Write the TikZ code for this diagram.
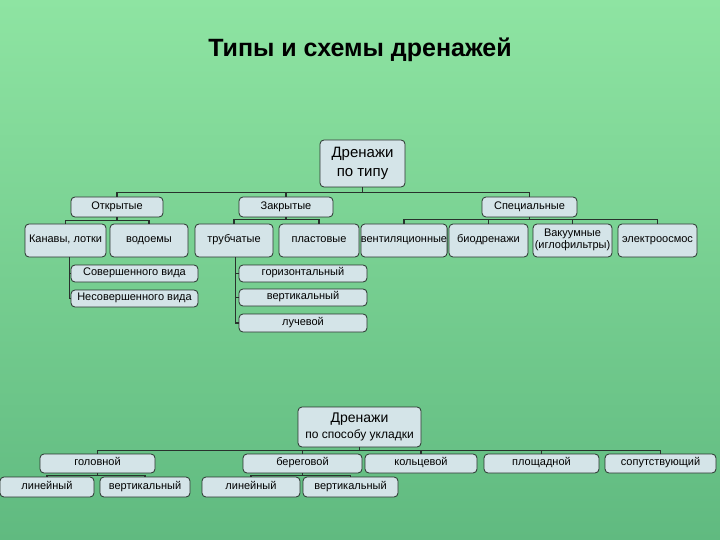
\documentclass[tikz,border=0pt]{standalone}
\usepackage{fontspec}
\setmainfont{Liberation Sans}
\definecolor{bgtop}{RGB}{142,228,162}
\definecolor{bgbot}{RGB}{96,186,128}
\definecolor{boxfill}{RGB}{212,228,232}
\definecolor{ln}{RGB}{40,50,45}
\tikzset{bx/.style={draw=ln,fill=boxfill,rounded corners=4pt,line width=0.8pt,inner sep=0pt,align=center,font=\fontsize{11}{12}\selectfont},
 conn/.style={draw=ln,line width=1.6pt}}
\newcommand\mybox[7][]{\node[bx,#1,minimum width={(#5-#3)*1pt},minimum height={(#6-#4)*1pt}] (#2) at ({(#3+#5)/2},{(#4+#6)/2}) {\strut #7};}
\begin{document}
\begin{tikzpicture}[x=1pt,y=-1pt]
\shade[top color=bgtop,bottom color=bgbot] (0,0) rectangle (720,540);
\useasboundingbox (0,0) rectangle (720,540);
\node[font=\fontsize{25}{28}\selectfont\bfseries] (title) at (360,50) {Типы и схемы дренажей};
% upper tree
\mybox[font=\fontsize{15}{19}\selectfont]{r1}{320}{140}{405}{187}{Дренажи\\\strut по типу}
\mybox{o}{71}{197}{163}{217}{Открытые}
\mybox{z}{239}{197}{333}{217}{Закрытые}
\mybox{s}{482}{197}{577}{217}{Специальные}
\mybox{kan}{25}{224}{106}{257}{Канавы, лотки}
\mybox{vod}{110}{224}{188}{257}{водоемы}
\mybox{tr}{195}{224}{273}{257}{трубчатые}
\mybox{pl}{279}{224}{359}{257}{пластовые}
\mybox{ven}{365}{224}{443}{257}{вентиляционные}
\mybox{bio}{449}{224}{528}{257}{биодренажи}
\mybox{vak}{533}{224}{612}{257}{Вакуумные\\\strut (иглофильтры)}
\mybox{el}{618}{224}{697}{257}{электроосмос}
\mybox{sov}{71}{265}{198}{282}{Совершенного вида}
\mybox{nes}{71}{290}{198}{307}{Несовершенного вида}
\mybox{gor}{239}{265}{367}{282}{горизонтальный}
\mybox{ver}{239}{289}{367}{306}{вертикальный}
\mybox{luch}{239}{314}{367}{332}{лучевой}
\foreach \c in {o,z,s} \draw[conn] (r1.south) -- ++(0,5) -| (\c.north);
\foreach \c in {kan,vod} \draw[conn] (o.south) -- ++(0,3) -| (\c.north);
\foreach \c in {tr,pl} \draw[conn] (z.south) -- ++(0,2) -| (\c.north);
\foreach \c in {ven,bio,vak,el} \draw[conn] (s.south) -- ++(0,2) -| (\c.north);
\foreach \c in {sov,nes} \draw[conn] ([xshift=45pt]kan.south west) |- (\c.west);
\foreach \c in {gor,ver,luch} \draw[conn] ([xshift=41pt]tr.south west) |- (\c.west);
% lower tree
\mybox[font=\fontsize{14}{16}\selectfont]{r2}{298}{407}{421}{447}{Дренажи\\\fontsize{12}{14}\selectfont\strut по способу укладки}
\mybox{gol}{40}{454}{155}{473}{головной}
\mybox{ber}{243}{454}{362}{473}{береговой}
\mybox{kol}{365}{454}{477}{473}{кольцевой}
\mybox{plo}{484}{454}{599}{473}{площадной}
\mybox{sop}{605}{454}{716}{473}{сопутствующий}
\mybox{l1}{0}{477}{94}{497}{линейный}
\mybox{v1}{100}{477}{190}{497}{вертикальный}
\mybox{l2}{202}{477}{300}{497}{линейный}
\mybox{v2}{303}{477}{398}{497}{вертикальный}
\foreach \c in {gol,ber,kol,plo,sop} \draw[conn] (r2.south) -- ++(0,3) -| (\c.north);
\foreach \c in {l1,v1} \draw[conn] (gol.south) -- ++(0,2) -| (\c.north);
\foreach \c in {l2,v2} \draw[conn] (ber.south) -- ++(0,2) -| (\c.north);
\end{tikzpicture}
\end{document}
